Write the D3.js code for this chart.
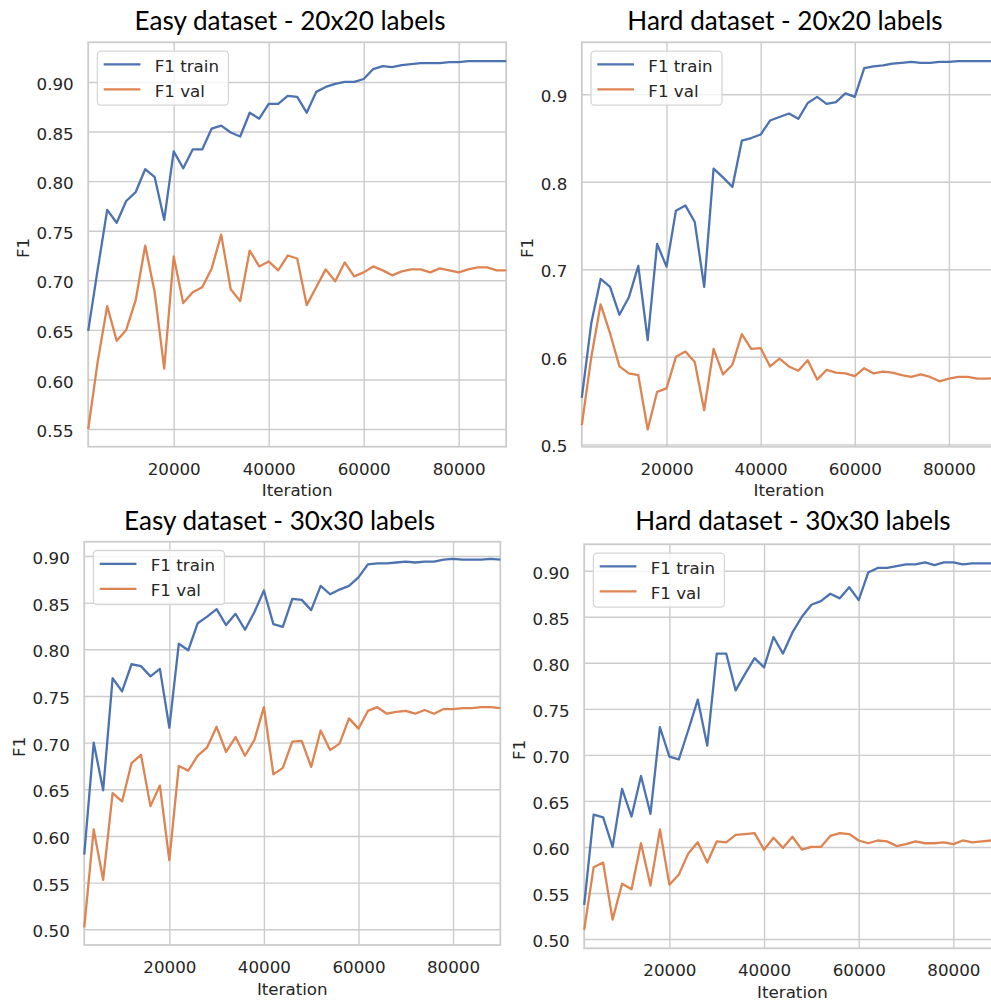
<!DOCTYPE html>
<html>
<head>
<meta charset="utf-8">
<script src="https://cdn.jsdelivr.net/npm/d3@7"></script>
<style>
  html, body { margin: 0; padding: 0; background: #ffffff; }
  svg { display: block; }
</style>
</head>
<body>
<svg id="chart" width="991" height="1001"></svg>
<script>
// ---------------- DATA ----------------
const iterations = [2000, 4000, 6000, 8000, 10000, 12000, 14000, 16000, 18000, 20000,
  22000, 24000, 26000, 28000, 30000, 32000, 34000, 36000, 38000, 40000,
  42000, 44000, 46000, 48000, 50000, 52000, 54000, 56000, 58000, 60000,
  62000, 64000, 66000, 68000, 70000, 72000, 74000, 76000, 78000, 80000,
  82000, 84000, 86000, 88000, 90000];

const easy20Train = [0.649, 0.711, 0.771, 0.758, 0.780, 0.789, 0.812, 0.804, 0.761, 0.830,
  0.813, 0.832, 0.832, 0.853, 0.856, 0.849, 0.845, 0.869, 0.863, 0.878,
  0.878, 0.886, 0.885, 0.869, 0.890, 0.895, 0.898, 0.900, 0.900, 0.903,
  0.913, 0.916, 0.915, 0.917, 0.918, 0.919, 0.919, 0.919, 0.920, 0.920,
  0.921, 0.921, 0.921, 0.921, 0.921];
const easy20Val = [0.550, 0.618, 0.674, 0.639, 0.650, 0.680, 0.735, 0.688, 0.611, 0.724,
  0.677, 0.688, 0.693, 0.712, 0.746, 0.691, 0.679, 0.730, 0.714, 0.719,
  0.710, 0.725, 0.722, 0.675, 0.693, 0.711, 0.699, 0.718, 0.704, 0.708,
  0.714, 0.710, 0.705, 0.709, 0.711, 0.711, 0.708, 0.712, 0.710, 0.708,
  0.711, 0.713, 0.713, 0.710, 0.710];

const hard20Train = [0.553, 0.638, 0.689, 0.680, 0.648, 0.668, 0.704, 0.619, 0.729, 0.703,
  0.767, 0.773, 0.754, 0.680, 0.815, 0.805, 0.794, 0.847, 0.850, 0.854,
  0.870, 0.874, 0.878, 0.872, 0.890, 0.897, 0.889, 0.891, 0.901, 0.897,
  0.930, 0.932, 0.933, 0.935, 0.936, 0.937, 0.936, 0.936, 0.937, 0.937,
  0.938, 0.938, 0.938, 0.938, 0.938];
const hard20Val = [0.522, 0.599, 0.660, 0.627, 0.589, 0.581, 0.579, 0.517, 0.560, 0.564,
  0.600, 0.606, 0.594, 0.539, 0.609, 0.580, 0.591, 0.626, 0.609, 0.610,
  0.589, 0.598, 0.589, 0.584, 0.596, 0.574, 0.585, 0.582, 0.581, 0.578,
  0.587, 0.581, 0.583, 0.582, 0.579, 0.577, 0.580, 0.577, 0.572, 0.575,
  0.577, 0.577, 0.575, 0.575, 0.576];

const easy30Train = [0.580, 0.700, 0.649, 0.769, 0.755, 0.784, 0.782, 0.771, 0.779, 0.716,
  0.806, 0.799, 0.828, 0.835, 0.843, 0.826, 0.838, 0.821, 0.840, 0.863,
  0.827, 0.824, 0.854, 0.853, 0.842, 0.868, 0.859, 0.864, 0.868, 0.877,
  0.891, 0.892, 0.892, 0.893, 0.894, 0.893, 0.894, 0.894, 0.896, 0.897,
  0.896, 0.896, 0.896, 0.897, 0.896];
const easy30Val = [0.502, 0.607, 0.553, 0.646, 0.637, 0.678, 0.687, 0.632, 0.654, 0.574,
  0.675, 0.670, 0.686, 0.695, 0.717, 0.690, 0.706, 0.686, 0.703, 0.738,
  0.666, 0.673, 0.701, 0.702, 0.674, 0.713, 0.692, 0.699, 0.726, 0.715,
  0.734, 0.738, 0.731, 0.733, 0.734, 0.731, 0.735, 0.731, 0.736, 0.736,
  0.737, 0.737, 0.738, 0.738, 0.737];

const hard30Train = [0.537, 0.635, 0.632, 0.600, 0.663, 0.633, 0.677, 0.636, 0.730, 0.698,
  0.695, 0.727, 0.760, 0.710, 0.810, 0.810, 0.770, 0.788, 0.805, 0.795,
  0.828, 0.810, 0.833, 0.850, 0.863, 0.867, 0.875, 0.870, 0.882, 0.868,
  0.898, 0.903, 0.903, 0.905, 0.907, 0.907, 0.909, 0.906, 0.909, 0.909,
  0.907, 0.908, 0.908, 0.908, 0.908];
const hard30Val = [0.510, 0.578, 0.583, 0.521, 0.560, 0.554, 0.604, 0.558, 0.619, 0.559,
  0.570, 0.593, 0.605, 0.583, 0.606, 0.605, 0.613, 0.614, 0.615, 0.597,
  0.610, 0.599, 0.611, 0.597, 0.600, 0.600, 0.612, 0.615, 0.614, 0.607,
  0.604, 0.607, 0.606, 0.601, 0.603, 0.606, 0.604, 0.604, 0.605, 0.603,
  0.607, 0.605, 0.606, 0.607, 0.607];

const xTicks = [20000, 40000, 60000, 80000];
const yTicksEasy20 = [0.55, 0.60, 0.65, 0.70, 0.75, 0.80, 0.85, 0.90];
const yTicksHard20 = [0.5, 0.6, 0.7, 0.8, 0.9];
const yTicksEasy30 = [0.50, 0.55, 0.60, 0.65, 0.70, 0.75, 0.80, 0.85, 0.90];
const yTicksHard30 = [0.50, 0.55, 0.60, 0.65, 0.70, 0.75, 0.80, 0.85, 0.90];

const titles = ["Easy dataset - 20x20 labels", "Hard dataset - 20x20 labels",
                "Easy dataset - 30x30 labels", "Hard dataset - 30x30 labels"];
const seriesNames = ["F1 train", "F1 val"];
const xLabel = "Iteration";
const yLabel = "F1";

// ---------------- LAYOUT / STYLE ----------------
const panels = [
  { title: titles[0], train: easy20Train, val: easy20Val, yTicks: yTicksEasy20, fmt: ".2f",
    left: 88.2, right: 506.2, top: 42.3, bottom: 446.7, yMin: 0.5322, yMax: 0.940, titleX: 290, titleY: 29.5 },
  { title: titles[1], train: hard20Train, val: hard20Val, yTicks: yTicksHard20, fmt: ".1f",
    left: 581.8, right: 996, top: 42.3, bottom: 446.7, yMin: 0.4973, yMax: 0.9594, titleX: 785, titleY: 29.5 },
  { title: titles[2], train: easy30Train, val: easy30Val, yTicks: yTicksEasy30, fmt: ".2f",
    left: 84.25, right: 500.3, top: 541.7, bottom: 945, yMin: 0.4832, yMax: 0.9153, titleX: 279.5, titleY: 529.5 },
  { title: titles[3], train: hard30Train, val: hard30Val, yTicks: yTicksHard30, fmt: ".2f",
    left: 584.2, right: 1000.7, top: 544.3, bottom: 948.3, yMin: 0.4899, yMax: 0.9287, titleX: 793, titleY: 530 }
];

const colors = ["#4c72b0", "#dd8452"];
const gridColor = "#cccccc";
const textColor = "#262626";
const tickFont = "'DejaVu Sans', sans-serif";
const tickSize = 16.7;

const svg = d3.select("#chart");

// Fit title font size to target width
const probe = svg.append("text").attr("font-family", "Lato, 'Open Sans', sans-serif")
  .attr("font-size", 24).text(titles[0]);
const probeW = probe.node().getComputedTextLength();
probe.remove();
const titleSize = 24 * 311 / probeW;

panels.forEach((p) => {
  const g = svg.append("g");
  const x = d3.scaleLinear().domain([2000, 90000]).range([p.left, p.right]);
  const y = d3.scaleLinear().domain([p.yMin, p.yMax]).range([p.bottom, p.top]);
  const w = p.right - p.left, h = p.bottom - p.top;

  // grid: x
  const xAxis = d3.axisBottom(x).tickValues(xTicks).tickSize(-h).tickPadding(0).tickFormat(d3.format("d"));
  const xg = g.append("g").attr("transform", `translate(0,${p.bottom})`).call(xAxis);
  xg.select(".domain").remove();
  xg.selectAll(".tick line").attr("stroke", gridColor).attr("stroke-width", 1.4);
  xg.selectAll(".tick text")
    .attr("y", 28).attr("dy", null)
    .attr("font-family", tickFont).attr("font-size", tickSize).attr("fill", textColor);

  // grid: y
  const yAxis = d3.axisLeft(y).tickValues(p.yTicks).tickSize(-w).tickPadding(0).tickFormat(d3.format(p.fmt));
  const yg = g.append("g").attr("transform", `translate(${p.left},0)`).call(yAxis);
  yg.select(".domain").remove();
  yg.selectAll(".tick line").attr("stroke", gridColor).attr("stroke-width", 1.4);
  yg.selectAll(".tick text")
    .attr("x", -14.5).attr("dy", null).attr("y", 7.6)
    .attr("font-family", tickFont).attr("font-size", tickSize).attr("fill", textColor);

  let maxW = 0;
  yg.selectAll(".tick text").each(function () { maxW = Math.max(maxW, this.getBBox().width); });

  // frame
  g.append("rect").attr("x", p.left).attr("y", p.top).attr("width", w).attr("height", h)
    .attr("fill", "none").attr("stroke", gridColor).attr("stroke-width", 1.8);

  // lines
  const series = [p.train, p.val];
  series.forEach((vals, si) => {
    const line = d3.line().x((d, i) => x(iterations[i])).y(d => y(d));
    g.append("path").datum(vals).attr("d", line)
      .attr("fill", "none").attr("stroke", colors[si]).attr("stroke-width", 2.3)
      .attr("stroke-linejoin", "round").attr("stroke-linecap", "butt");
  });

  // legend
  const lx = p.left + 9.2, ly = p.top + 8.8;
  const lg = g.append("g").attr("transform", `translate(${lx},${ly})`);
  lg.append("rect").attr("x", 0).attr("y", 0).attr("width", 131).attr("height", 54).attr("rx", 3.5)
    .attr("fill", "#ffffff").attr("fill-opacity", 0.8).attr("stroke", "#d6d6d6").attr("stroke-width", 1.3);
  seriesNames.forEach((name, si) => {
    const yy = 13.3 + si * 25;
    lg.append("line").attr("x1", 6.3).attr("x2", 43).attr("y1", yy).attr("y2", yy)
      .attr("stroke", colors[si]).attr("stroke-width", 2.3);
    lg.append("text").attr("x", 57.3).attr("y", yy + 7.4).text(name)
      .attr("font-family", tickFont).attr("font-size", tickSize).attr("fill", textColor);
  });

  // axis labels
  g.append("text").attr("x", (p.left + p.right) / 2).attr("y", p.bottom + 49.5)
    .attr("text-anchor", "middle").text(xLabel)
    .attr("font-family", tickFont).attr("font-size", tickSize).attr("fill", textColor);
  const fx = p.left - 14.5 - maxW - 13.5;
  const fy = (p.top + p.bottom) / 2 + 3.5;
  g.append("text").attr("transform", `translate(${fx},${fy}) rotate(-90)`)
    .attr("text-anchor", "middle").attr("dy", "0.36em").text(yLabel)
    .attr("font-family", tickFont).attr("font-size", tickSize).attr("fill", textColor);

  // title
  g.append("text").attr("x", p.titleX).attr("y", p.titleY).attr("text-anchor", "middle")
    .text(p.title).attr("font-family", "Lato, 'Open Sans', sans-serif")
    .attr("font-size", titleSize).attr("fill", "#000000");
});
</script>
</body>
</html>
